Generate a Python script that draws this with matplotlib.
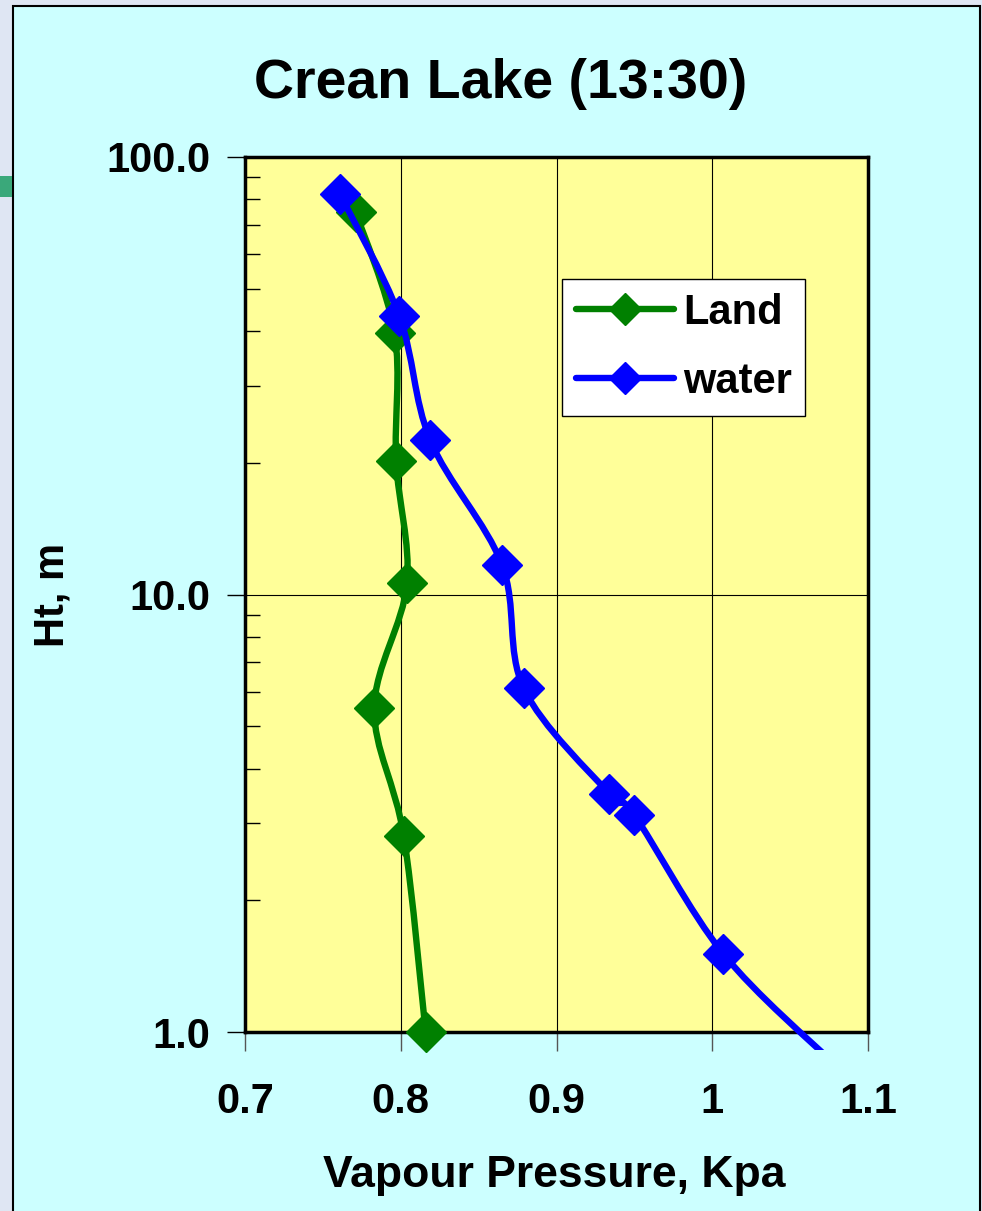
import matplotlib.pyplot as plt
import numpy as np
from matplotlib.lines import Line2D
from matplotlib.patches import PathPatch, Rectangle
from matplotlib.path import Path
from matplotlib.ticker import NullFormatter

# values (vapour pressure in Kpa, height in m)
landVP = [0.771, 0.796, 0.797, 0.804, 0.783, 0.802, 0.816]
landHt = [75.0, 39.6, 20.2, 10.6, 5.5, 2.8, 1.0]
waterVP = [0.761, 0.799, 0.819, 0.865, 0.879, 0.934, 0.950, 1.007, 1.077]
waterHt = [82.2, 43.4, 22.5, 11.7, 6.1, 3.5, 3.13, 1.51, 0.854]

xTicks = [0.7, 0.8, 0.9, 1.0, 1.1]
xTickLabels = ["0.7", "0.8", "0.9", "1", "1.1"]
yTicks = [1, 10, 100]
yTickLabels = ["1.0", "10.0", "100.0"]

FONT = "Liberation Sans"
GREEN = "#008000"
BLUE = "#0000FF"


# Excel style smoothed line: catmull-rom bezier through the points in (x, log y)
def smoothPath(xs, ys):
    pts = np.column_stack([xs, np.log10(ys)])
    padded = np.vstack([pts[0], pts, pts[-1]])
    verts = [pts[0]]
    codes = [Path.MOVETO]
    for i in range(len(pts) - 1):
        p0, p1, p2, p3 = padded[i], padded[i+1], padded[i+2], padded[i+3]
        verts += [p1 + (p2 - p0) / 6, p2 - (p3 - p1) / 6, p2]
        codes += [Path.CURVE4] * 3
    verts = np.array(verts)
    verts[:, 1] = 10 ** verts[:, 1]
    return Path(verts, codes)


fig = plt.figure(figsize=(9.82, 12.11), dpi=100)
fig.patch.set_facecolor("#dfe6f3")

# slide background box
fig.patches.append(Rectangle((13/982, -0.01), 967/982, 1 - 6/1211 + 0.01, transform=fig.transFigure,
                             facecolor="#CCFFFF", edgecolor="black", lw=1.5, zorder=-2))
fig.patches.append(Rectangle((0, 1 - 197/1211), 12/982, 21/1211, transform=fig.transFigure,
                             facecolor="#3aa87a", edgecolor="none", zorder=-2))

ax = fig.add_axes([245/982, 1 - 1032/1211, 623/982, 875/1211])
ax.set_facecolor("#FFFF99")
ax.set_yscale("log")
ax.set_xlim(0.7, 1.1)
ax.set_ylim(1, 100)

ax.set_xticks(xTicks)
ax.set_xticklabels(xTickLabels)
ax.set_yticks(yTicks)
ax.set_yticklabels(yTickLabels)
ax.yaxis.set_minor_formatter(NullFormatter())

ax.grid(axis="x", which="major", color="black", lw=0.8)
ax.grid(axis="y", which="major", color="black", lw=0.8)
ax.set_axisbelow(True)

ax.tick_params(axis="y", which="major", direction="out", length=13, width=1, pad=12)
ax.tick_params(axis="y", which="minor", direction="in", length=11, width=1)
ax.tick_params(axis="x", which="major", direction="out", length=14, width=1, pad=22, color="#555555")
for lab in ax.get_xticklabels() + ax.get_yticklabels():
    lab.set_fontfamily(FONT)
    lab.set_fontweight("bold")
    lab.set_fontsize(30)

for side in ax.spines.values():
    side.set_linewidth(2.5)
    side.set_color("black")

landLine = PathPatch(smoothPath(landVP, landHt), facecolor="none", edgecolor=GREEN, lw=4.6,
                     capstyle="round", joinstyle="round", zorder=3)
ax.add_patch(landLine)
ax.plot(landVP, landHt, ls="none", marker="D", ms=20.5, color=GREEN, clip_on=False, zorder=4)

waterLine = PathPatch(smoothPath(waterVP, waterHt), facecolor="none", edgecolor=BLUE, lw=4.6,
                      capstyle="round", joinstyle="round", zorder=5)
ax.add_patch(waterLine)
waterLine.set_clip_path(Rectangle((0, -18/875), 1, 1 + 18/875, transform=ax.transAxes))
ax.plot(waterVP[:-1], waterHt[:-1], ls="none", marker="D", ms=20.5, color=BLUE, clip_on=False, zorder=6)

handles = [Line2D([], [], color=GREEN, lw=4.6, marker="D", ms=16, solid_capstyle="round"),
           Line2D([], [], color=BLUE, lw=4.6, marker="D", ms=16, solid_capstyle="round")]
leg = ax.legend(handles, ["Land", "water"], loc="upper left",
                bbox_to_anchor=(562/982, 1 - 279/1211), bbox_transform=fig.transFigure,
                prop={"family": FONT, "weight": "bold", "size": 30},
                fancybox=False, framealpha=1, edgecolor="black", facecolor="white",
                handlelength=2.35, handletextpad=0.22, labelspacing=0.7, borderpad=0.33,
                borderaxespad=0)
leg.get_frame().set_linewidth(1)
leg.set_zorder(10)

fig.text(501/982, 1 - 84/1211, "Crean Lake (13:30)", ha="center", va="center",
         family=FONT, weight="bold", fontsize=40)
fig.text(554/982, 1 - 1175/1211, "Vapour Pressure, Kpa", ha="center", va="center",
         family=FONT, weight="bold", fontsize=32)
fig.text(52/982, 1 - 595/1211, "Ht, m", ha="center", va="center", rotation=90,
         family=FONT, weight="bold", fontsize=30)

fig.savefig("out.png", dpi=100, facecolor=fig.get_facecolor())
